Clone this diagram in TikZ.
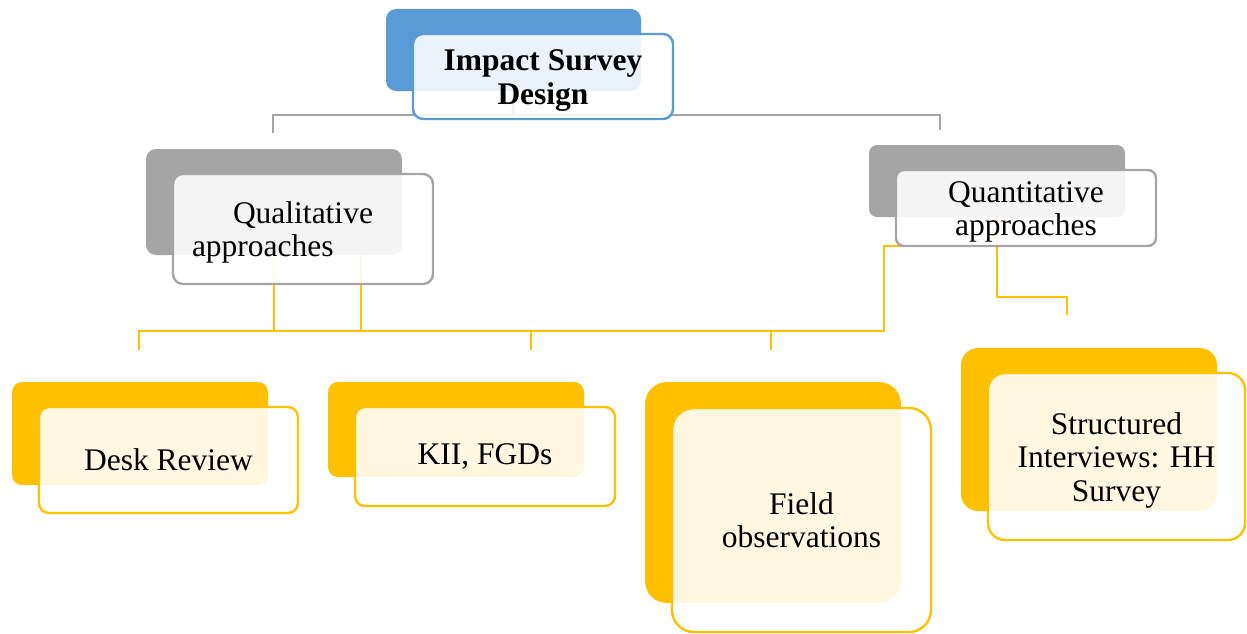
\documentclass[tikz,border=0pt]{standalone}
\usepackage{fontspec}
\setmainfont{Liberation Serif}
\definecolor{accblue}{HTML}{5B9BD5}
\definecolor{accgray}{HTML}{A5A5A5}
\definecolor{accgold}{HTML}{FFC000}
% extra head room above the first line of a multi-line label
\newcommand\firstlinepad{\rule{0pt}{29pt}}

\begin{document}
\begin{tikzpicture}[x=1pt,y=-1pt,
  backbox/.style={rectangle, rounded corners=#1, inner sep=0pt, outer sep=0pt},
  backbox/.default=10pt,
  frontbox/.style={rectangle, rounded corners=#1, fill=white, fill opacity=0.88,
    text opacity=1, line width=2.4pt, inner sep=0pt, outer sep=0pt, align=center,
    font=\fontsize{31.5}{33.5}\selectfont},
  frontbox/.default=10pt,
  graylink/.style={draw=accgray, line width=2.2pt},
  goldlink/.style={draw=accgold, line width=2.6pt},
]
\useasboundingbox (0,0) rectangle (1247,634);

% connector end points and junctions
\coordinate (hubL) at (273,115);
\coordinate (hubR) at (940,115);
\coordinate (endL) at (273,133);
\coordinate (endR) at (940,130);
\coordinate (q2) at (361,255);
\coordinate (busL) at (139,331);
\coordinate (busR) at (771,331);
\coordinate (d1) at (139,350);
\coordinate (d2) at (531,350);
\coordinate (d3) at (771,350);
\coordinate (k1) at (884,246);
\coordinate (k2) at (997,246);
\coordinate (k3) at (1067,297);
\coordinate (k4) at (1067,315);

% back boxes (positions only, drawn after the connectors)
\path
  node[backbox, minimum width=255pt, minimum height=82pt] (designback) at (513.5,50) {}
  node[backbox, minimum width=256pt, minimum height=106pt] (qualback) at (274,202) {}
  node[backbox=8pt, minimum width=256pt, minimum height=72pt] (quantback) at (997,181) {};

% connectors
\draw[graylink] (designback.south) |- (hubL) -- (endL);
\draw[graylink] (designback.south) |- (hubR) -- (endR);
\draw[goldlink] (qualback.south) -- (qualback.south |- busL);
\draw[goldlink] (q2) -- (q2 |- busL);
\draw[goldlink] (d1) |- (busR) -- (d3);
\draw[goldlink] (d2) -- (d2 |- busL);
\draw[goldlink] (busR) -| (k1) -- (k2);
\draw[goldlink] (quantback.south) |- (k3) -- (k4);

% back boxes
\fill[accblue, rounded corners=10pt] (designback.south west) rectangle (designback.north east);
\fill[accgray, rounded corners=10pt] (qualback.south west) rectangle (qualback.north east);
\fill[accgray, rounded corners=8pt] (quantback.south west) rectangle (quantback.north east);
\node[backbox, fill=accgold, minimum width=256pt, minimum height=103pt] (deskback) at (140,433.5) {};
\node[backbox, fill=accgold, minimum width=256pt, minimum height=95pt] (kiiback) at (456,429.5) {};
\node[backbox=22pt, fill=accgold, minimum width=256pt, minimum height=221pt] (fieldback) at (773,492.5) {};
\node[backbox=17pt, fill=accgold, minimum width=256pt, minimum height=163pt] (hhback) at (1089,429.5) {};

% front boxes with the labels
\node[frontbox, draw=accblue, minimum width=260pt, minimum height=85pt] (design) at (543,76.5)
  {\bfseries\firstlinepad Impact Survey\\\bfseries Design};
\node[frontbox, draw=accgray, minimum width=260pt, minimum height=110pt,
  text width=222pt, align=left] (qual) at (303,229)
  {\firstlinepad\hspace*{41pt}Qualitative\\approaches};
\node[frontbox=8pt, draw=accgray, minimum width=260pt, minimum height=76pt] (quant) at (1026,208)
  {\firstlinepad Quantitative\\approaches};
\node[frontbox, draw=accgold, minimum width=259pt, minimum height=106pt] (desk) at (168.5,460)
  {Desk Review};
\node[frontbox, draw=accgold, minimum width=260pt, minimum height=99pt] (kii) at (485,456.5)
  {KII, FGDs};
\node[frontbox=22pt, draw=accgold, minimum width=259pt, minimum height=224pt] (field) at (801.5,520)
  {Field\\observations};
\node[frontbox=17pt, draw=accgold, minimum width=257pt, minimum height=167pt] (hh) at (1116.5,456.5)
  {\firstlinepad Structured\\Interviews: HH\\Survey};
\end{tikzpicture}
\end{document}
